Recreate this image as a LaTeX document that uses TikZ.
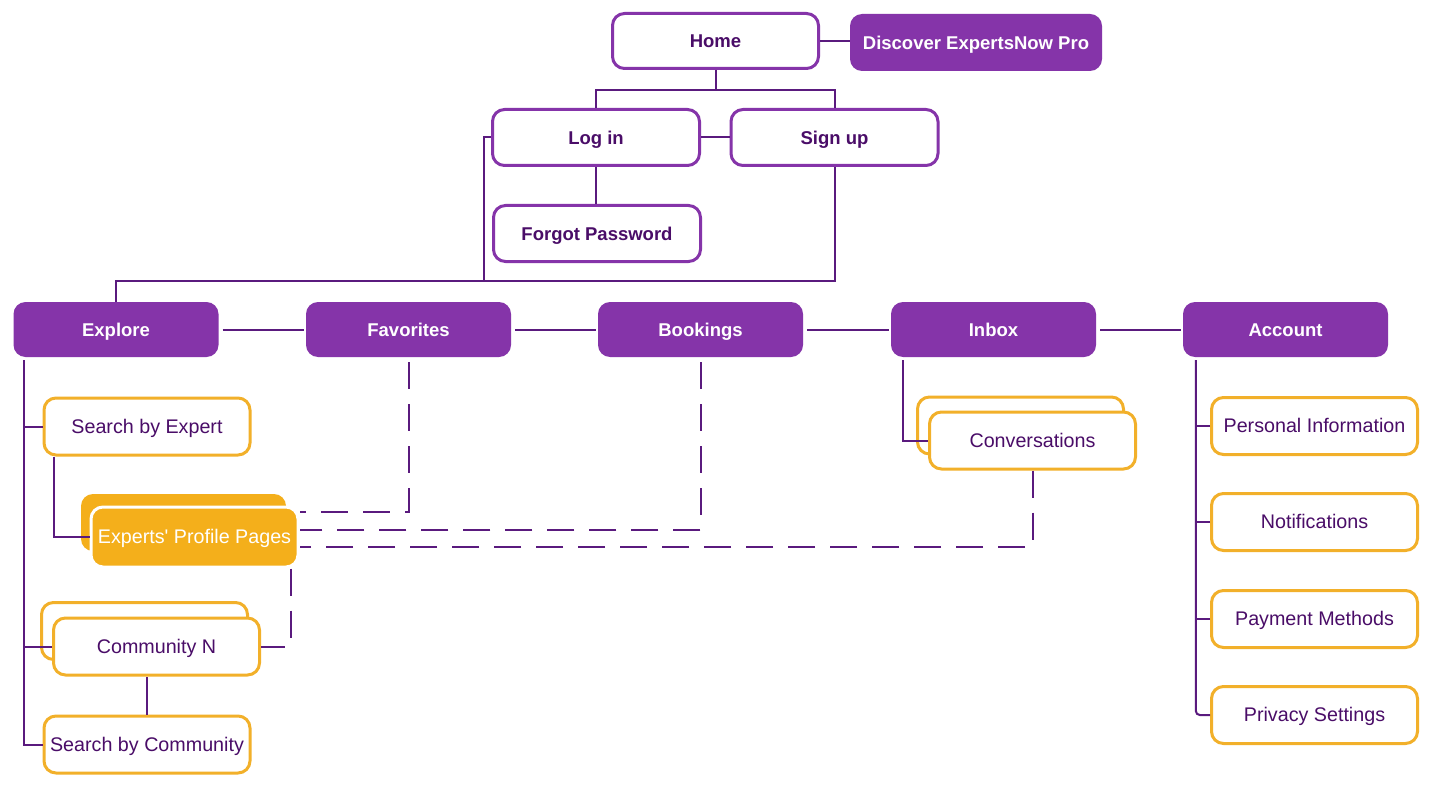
\documentclass[tikz,border=0pt]{standalone}
\usepackage{fontspec}
\setmainfont{Liberation Sans}
\usetikzlibrary{calc}
\definecolor{pfill}{HTML}{8534A9}
\definecolor{ptext}{HTML}{4A0D68}
\definecolor{pline}{HTML}{5A1A7E}
\definecolor{oline}{HTML}{F2B02A}
\definecolor{ofill}{HTML}{F4AF1B}
\begin{document}
\begin{tikzpicture}[x=1pt,y=-1pt,
  base/.style={rounded corners=12pt, align=center, inner sep=0pt, text height=13.5pt, text depth=0.3pt},
  boldtxt/.style={font=\fontsize{18.5}{20}\selectfont\bfseries},
  regtxt/.style={font=\fontsize{19.7}{22}\selectfont},
  whitebox/.style={base, boldtxt, draw=pfill, line width=3pt, fill=white, text=ptext, minimum width=207pt, minimum height=56pt},
  mainbox/.style={base, boldtxt, fill=pfill, text=white, minimum width=205pt, minimum height=55pt},
  subbox/.style={base, regtxt, draw=oline, line width=3pt, fill=white, text=ptext, minimum width=206pt, minimum height=57pt},
  hotback/.style={base, fill=ofill, minimum width=205pt, minimum height=57pt},
  hotbox/.style={base, regtxt, fill=ofill, draw=white, line width=3pt, text=white, minimum width=207pt, minimum height=60pt},
  link/.style={draw=pline, line width=2pt},
  weak/.style={link, dash pattern=on 27pt off 15pt},
]
\useasboundingbox[fill=white] (0,0) rectangle (1431,786);

% top
\node[whitebox, minimum width=206pt, minimum height=55pt] (home) at (715.5,41) {Home};
\node[mainbox, minimum width=252pt, minimum height=57pt] (disc) at (976,42.5) {Discover ExpertsNow Pro};
\node[whitebox] (login) at (596,137.5) {Log in};
\node[whitebox] (signup) at (834.5,137.5) {Sign up};
\node[whitebox] (forgot) at (597,233.5) {Forgot Password};

% main row
\node[mainbox] (explore) at (116,329.5) {Explore};
\node[mainbox] (fav) at (408.5,329.5) {Favorites};
\node[mainbox] (book) at (700.5,329.5) {Bookings};
\node[mainbox] (inbox) at (993.5,329.5) {Inbox};
\node[mainbox] (account) at (1285.5,329.5) {Account};

% explore children
\node[subbox] (sbe) at (147,426.5) {Search by Expert};
\node[hotback] (expb) at (183.5,522.5) {};
\node[hotbox] (expf) at (194.5,537) {Experts\textquotesingle{} Profile Pages};
\node[subbox] (commb) at (144.5,631) {};
\node[subbox] (comm) at (156.5,646.5) {Community N};
\node[subbox] (sbc) at (147,744.5) {Search by Community};

% inbox child
\node[subbox] (convb) at (1020.5,425.5) {};
\node[subbox] (conv) at (1032.5,440.5) {Conversations};

% account children
\node[subbox] (pinfo) at (1314.5,426) {Personal Information};
\node[subbox] (notif) at (1314.5,522) {Notifications};
\node[subbox] (pay) at (1314.5,619) {Payment Methods};
\node[subbox] (priv) at (1314.5,715) {Privacy Settings};

% top connectors
\draw[link] (home.east) -- (home.east -| disc.west);
\draw[link] (home.south) -- ++(0,20) coordinate (hs) -| (login.north);
\draw[link] (hs) -| (signup.north);
\draw[link] (login.east) -- (signup.west);
\draw[link] (login.south) -- (login.south |- forgot.north);
\draw[link] (explore.north) -- ++(0,-21) coordinate (ej) -| (signup.south);
\draw[link] (login.west) -- ++(-7,0) coordinate (lw) -- (lw |- ej);

% main row connectors
\draw[link, shorten <=4pt, shorten >=2pt] (explore.east) -- (fav.west);
\draw[link, shorten <=4pt, shorten >=2pt] (fav.east) -- (book.west);
\draw[link, shorten <=4pt, shorten >=2pt] (book.east) -- (inbox.west);
\draw[link, shorten <=4pt, shorten >=2pt] (inbox.east) -- (account.west);

% explore tree
\coordinate (exl) at ($(explore.south west)+(11,3)$);
\draw[link] (exl) |- (sbc.west);
\draw[link] (sbe.west) -- (sbe.west -| exl);
\draw[link] (comm.west) -- (comm.west -| exl);
\draw[link] ($(sbe.south west)+(11,0)$) |- (expf.west);
\draw[link] (sbc.north) -- (sbc.north |- comm.south);

% inbox tree
\coordinate (inl) at ($(inbox.south west)+(12,3)$);
\draw[link] (inl) |- (conv.west);

% account tree
\coordinate (acl) at ($(account.south west)+(13,3)$);
\draw[link, rounded corners=4pt] (acl) |- (priv.west);
\draw[link] (pinfo.west) -- (pinfo.west -| acl);
\draw[link] (notif.west) -- (notif.west -| acl);
\draw[link] (pay.west) -- (pay.west -| acl);

% dashed relations
\draw[weak] ($(fav.south)+(0,5)$) |- ($(expf.north east)+(0,6)$);
\draw[weak] ($(book.south)+(0,5)$) |- ($(expf.east)+(0,-7)$);
\draw[weak] (conv.south) |- ($(expf.east)+(0,10)$);
\draw[weak] ($(expf.south east)+(-9,0)$) |- (comm.east);
\end{tikzpicture}
\end{document}
